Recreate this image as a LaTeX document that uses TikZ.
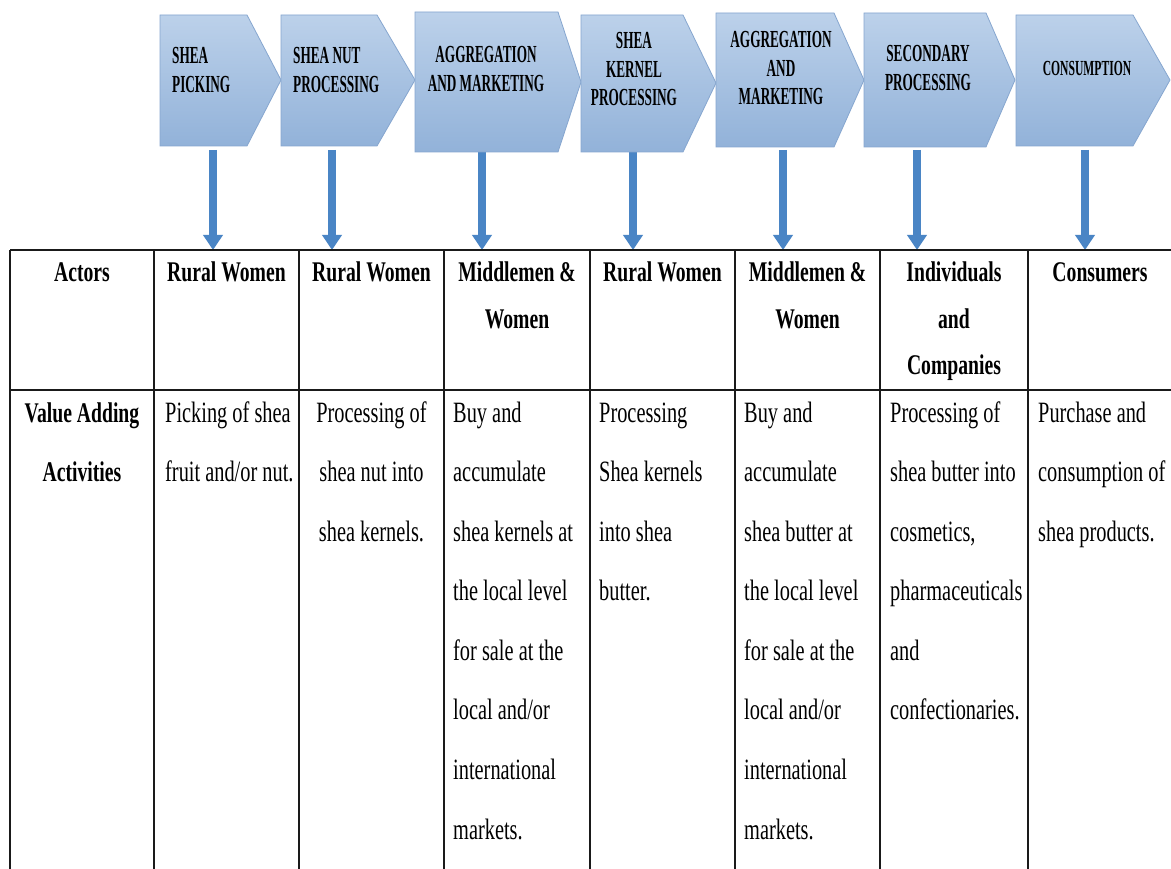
\documentclass[tikz,border=0pt]{standalone}
\usepackage{fontspec}
\setmainfont{Liberation Serif}
\newfontfamily\cellfont{Liberation Serif}[FakeStretch=0.69]
\newfontfamily\chevfont{Liberation Serif}[FakeStretch=0.54]
\usetikzlibrary{arrows.meta}
\definecolor{chevtop}{HTML}{BCD1EA}
\definecolor{chevbot}{HTML}{92B2D9}
\definecolor{chevedge}{HTML}{86A6CF}
\definecolor{flowblue}{HTML}{4A85C5}
\definecolor{gridink}{HTML}{1A1A1A}
% interword spaces narrowed in step with the condensed glyphs
\protected\def\chevgap{\spaceskip=3.3pt\relax\xspaceskip=3.3pt\relax}
\protected\def\headgap{\spaceskip=4.9pt\relax\xspaceskip=4.9pt\relax}
\protected\def\bodygap{\spaceskip=5.1pt\relax\xspaceskip=5.1pt\relax}

\begin{document}
\begin{tikzpicture}[x=1pt,y=-1pt,
  stage/.style={draw=chevedge, line width=0.8pt, top color=chevtop, bottom color=chevbot},
  stagelabel/.style={font=\chevfont\bfseries\fontsize{24.5}{28.5}\selectfont,
    execute at begin node=\chevgap,
    inner sep=0pt, anchor=base, align=center, text width=160pt},
  stageleft/.style={stagelabel, anchor=base west, align=left},
  flow/.style={draw=flowblue, line width=8pt, -{Triangle[length=15pt,width=19pt]}},
  gridline/.style={draw=gridink, line width=1.4pt},
  head/.style={font=\cellfont\bfseries\fontsize{28.5}{46.5}\selectfont,
    execute at begin node=\headgap,
    inner sep=0pt, anchor=base, align=center, text width=140pt},
  rowhead/.style={head, font=\cellfont\bfseries\fontsize{28.5}{59.6}\selectfont},
  body/.style={font=\cellfont\fontsize{29.5}{59.6}\selectfont,
    execute at begin node=\bodygap,
    inner sep=0pt, anchor=base west, align=left, text width=140pt},
  bodyc/.style={body, anchor=base, align=center},
]
\useasboundingbox (0,0) rectangle (1171,869);
\fill[white] (0,0) rectangle (1171,869);

% start and end points of the stage-to-actor arrows
\foreach \i/\x in {1/213,2/332,3/482,4/633,5/783,6/917,7/1085}{
  \coordinate (out\i) at (\x,150);
  \coordinate (in\i) at (\x,250);
}
\foreach \i in {1,...,7}
  \draw[flow] (out\i) -- (in\i);

% value chain stages
\path[stage] (160,15) -- (247,15) -- (281,80) -- (247,146) -- (160,146) -- cycle;
\path[stage] (281,15) -- (377,15) -- (415,80) -- (377,146) -- (281,146) -- cycle;
\path[stage] (415,12) -- (558,12) -- (581,82) -- (558,152) -- (415,152) -- cycle;
\path[stage] (581,15) -- (683,15) -- (716,83) -- (683,152) -- (581,152) -- cycle;
\path[stage] (716,13) -- (834,13) -- (864,80) -- (834,147) -- (716,147) -- cycle;
\path[stage] (864,13) -- (986,13) -- (1015,80) -- (986,147) -- (864,147) -- cycle;
\path[stage] (1016,15) -- (1133,15) -- (1170,80) -- (1133,146) -- (1016,146) -- cycle;

\node[stageleft] (s1) at (172,64) {SHEA\\PICKING};
\node[stageleft] (s2) at (293,64) {SHEA NUT\\PROCESSING};
\node[stagelabel] (s3) at (486,63) {AGGREGATION\\AND MARKETING};
\node[stagelabel] (s4) at (634,49) {SHEA\\KERNEL\\PROCESSING};
\node[stagelabel] (s5) at (781,48) {AGGREGATION\\AND\\MARKETING};
\node[stagelabel] (s6) at (928,62) {SECONDARY\\PROCESSING};
\node[stagelabel, font=\chevfont\bfseries\fontsize{21.5}{27}\selectfont] (s7) at (1087,76) {CONSUMPTION};

% table rules
\draw[gridline] (10,250) -- (1172,250);
\draw[gridline] (10,390) -- (1172,390);
\foreach \x in {10,154,299,444,590,735,880,1028}
  \draw[gridline] (\x,250) -- (\x,870);

% actors row
\node[head] (a0) at (82,282) {Actors};
\node[head] (a1) at (226.5,282) {Rural Women};
\node[head] (a2) at (371.5,282) {Rural Women};
\node[head] (a3) at (517,282) {Middlemen \&\\Women};
\node[head] (a4) at (662.5,282) {Rural Women};
\node[head] (a5) at (807.5,282) {Middlemen \&\\Women};
\node[head] (a6) at (954,282) {Individuals\\and\\Companies};
\node[head] (a7) at (1100,282) {Consumers};

% value adding activities row
\node[rowhead] (v0) at (82,422) {Value Adding\\Activities};
\node[body] (v1) at (165,422) {Picking of shea\\fruit and/or nut.};
\node[bodyc] (v2) at (371.5,422) {Processing of\\shea nut into\\shea kernels.};
\node[body] (v3) at (453,422) {Buy and\\accumulate\\shea kernels at\\the local level\\for sale at the\\local and/or\\international\\markets.};
\node[body] (v4) at (599,422) {Processing\\Shea kernels\\into shea\\butter.};
\node[body] (v5) at (744,422) {Buy and\\accumulate\\shea butter at\\the local level\\for sale at the\\local and/or\\international\\markets.};
\node[body] (v6) at (890,422) {Processing of\\shea butter into\\cosmetics,\\pharmaceuticals\\and\\confectionaries.};
\node[body] (v7) at (1038,422) {Purchase and\\consumption of\\shea products.};
\end{tikzpicture}
\end{document}
